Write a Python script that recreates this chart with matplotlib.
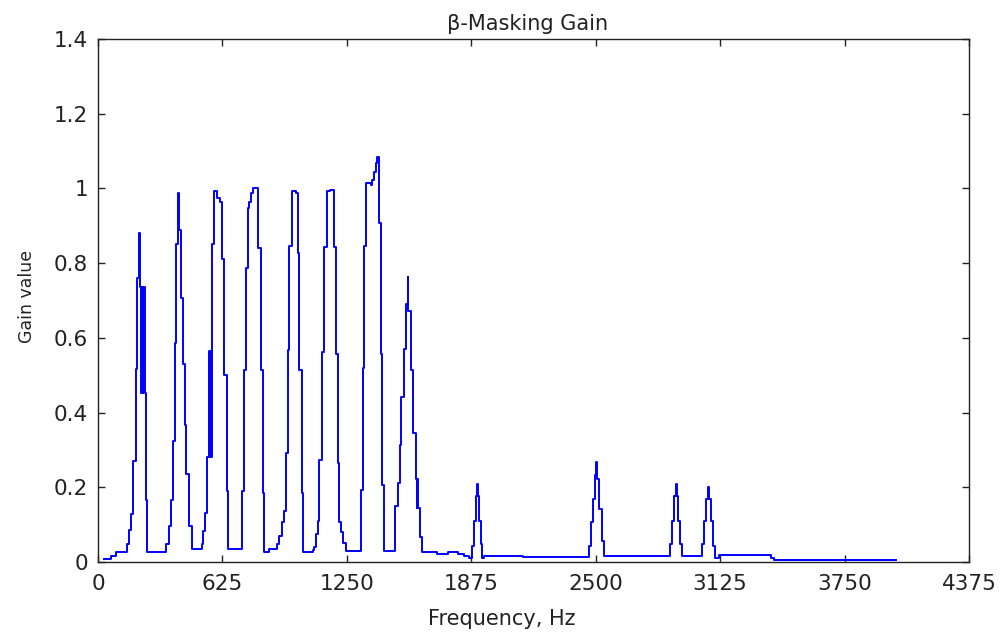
import matplotlib
matplotlib.use("Agg")
import matplotlib.pyplot as plt

# gain, one value per step (step starts at freq_hz)
freq_hz = [30, 63, 88,
           147, 155, 167, 175, 189, 197, 205, 210, 215, 219, 224, 228, 234, 240, 247,
           343, 357, 365, 377, 385, 394, 404, 407, 415, 427, 437, 444, 457, 471,
           521, 528, 538, 546, 558, 561, 564, 567, 571, 575, 583, 600, 612, 625, 634, 647, 655,
           723, 734, 743, 751, 759, 768, 780, 806, 818, 827, 835,
           860, 897, 907, 924, 936, 944, 953, 961, 974, 994, 1003, 1011, 1023, 1031,
           1078, 1087, 1095, 1103, 1112, 1124, 1137, 1149, 1165, 1187, 1196, 1204, 1212, 1221, 1233, 1246,
           1322, 1330, 1338, 1347, 1370, 1377, 1384, 1394, 1403, 1409, 1419, 1427, 1436,
           1490, 1506, 1515, 1523, 1535, 1548, 1555, 1559, 1574, 1582, 1595, 1600, 1604, 1609, 1618, 1628,
           1704, 1760, 1808, 1840, 1862,
           1879, 1887, 1897, 1904, 1908, 1914, 1922, 1931, 1939, 2136,
           2468, 2476, 2485, 2495, 2503, 2508, 2518, 2530, 2540,
           2874, 2883, 2894, 2903, 2906, 2913, 2922, 2931,
           3034, 3042, 3054, 3063, 3067, 3081, 3089, 3098, 3118,
           3378, 3395, 4010]
gain = [0.008, 0.015, 0.026,
        0.048, 0.086, 0.128, 0.271, 0.516, 0.760, 0.880, 0.735, 0.452, 0.735, 0.452, 0.735, 0.452, 0.165, 0.026,
        0.048, 0.097, 0.165, 0.324, 0.586, 0.850, 0.988, 0.890, 0.708, 0.531, 0.367, 0.236, 0.097, 0.035,
        0.048, 0.083, 0.132, 0.280, 0.566, 0.280, 0.566, 0.280, 0.566, 0.850, 0.992, 0.975, 0.965, 0.810, 0.500, 0.190, 0.035,
        0.190, 0.513, 0.788, 0.948, 0.965, 0.988, 1.000, 0.841, 0.513, 0.185, 0.027,
        0.035, 0.048, 0.070, 0.106, 0.137, 0.292, 0.568, 0.846, 0.992, 0.988, 0.828, 0.513, 0.185, 0.026,
        0.033, 0.039, 0.074, 0.110, 0.274, 0.562, 0.843, 0.992, 0.996, 0.843, 0.558, 0.265, 0.106, 0.079, 0.052, 0.030,
        0.194, 0.518, 0.846, 1.014, 1.008, 1.023, 1.045, 1.067, 1.085, 0.908, 0.558, 0.207, 0.030,
        0.150, 0.212, 0.314, 0.442, 0.571, 0.691, 0.762, 0.673, 0.513, 0.345, 0.221, 0.145, 0.221, 0.145, 0.066, 0.026,
        0.021, 0.026, 0.021, 0.016, 0.012,
        0.044, 0.110, 0.176, 0.209, 0.176, 0.110, 0.048, 0.012, 0.017, 0.013,
        0.044, 0.106, 0.169, 0.234, 0.267, 0.223, 0.141, 0.057, 0.017,
        0.048, 0.110, 0.176, 0.209, 0.176, 0.110, 0.048, 0.017,
        0.048, 0.110, 0.168, 0.200, 0.168, 0.110, 0.044, 0.012, 0.018,
        0.012, 0.006, 0.006]

x_ticks = [0, 625, 1250, 1875, 2500, 3125, 3750, 4375]
y_ticks = [0, 0.2, 0.4, 0.6, 0.8, 1.0, 1.2, 1.4]
y_tick_labels = ["0", "0.2", "0.4", "0.6", "0.8", "1", "1.2", "1.4"]

fig = plt.figure(figsize=(10.02, 6.34), dpi=100)
ax = fig.add_axes([98 / 1002, 1 - 562 / 634, 871 / 1002, 523 / 634])

ax.step(freq_hz, gain, where="post", color="#0000ff", lw=1.4)

ax.set_xlim(0, 4375)
ax.set_ylim(0, 1.4)
ax.set_xticks(x_ticks)
ax.set_xticklabels([str(t) for t in x_ticks])
ax.set_yticks(y_ticks)
ax.set_yticklabels(y_tick_labels)

ax.tick_params(direction="in", length=5, width=1, top=True, right=True,
               labelsize=15.5, colors="#222222")
ax.tick_params(axis="x", pad=9)
ax.tick_params(axis="y", pad=7)
for sp in ax.spines.values():
    sp.set_color("#222222")
    sp.set_linewidth(1.0)

ax.set_xlabel("Frequency, Hz", fontsize=15, color="#222222")
ax.xaxis.set_label_coords(0.464, -0.089)
ax.set_ylabel("Gain value", fontsize=12.5, color="#222222")
ax.yaxis.set_label_coords(-0.071, 0.507)
ax.set_title("β-Masking Gain", fontsize=15, color="#222222", pad=6.5)
ax.title.set_x(0.493)

fig.savefig("out.png", dpi=100)
